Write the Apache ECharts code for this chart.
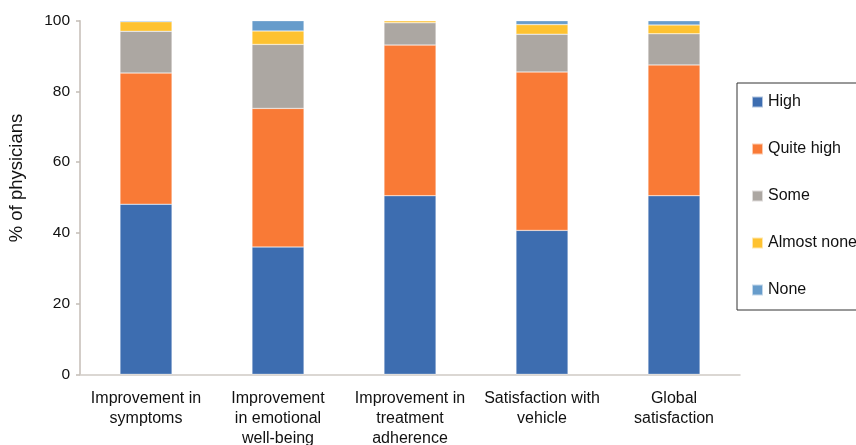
<!DOCTYPE html>
<html>
<head>
<meta charset="utf-8">
<script src="https://cdn.jsdelivr.net/npm/echarts@6/dist/echarts.min.js"></script>
<style>
html,body{margin:0;padding:0;background:#fff;}
#chart{width:856px;height:445px;}
</style>
</head>
<body>
<div id="chart"></div>
<script>
var categories = ["Improvement in\nsymptoms", "Improvement\nin emotional\nwell-being", "Improvement in\ntreatment\nadherence", "Satisfaction with\nvehicle", "Global\nsatisfaction"];
var seriesNames = ["High", "Quite high", "Some", "Almost none", "None"];
var high = [48.1, 36.0, 50.5, 40.7, 50.5];
var quiteHigh = [37.1, 39.2, 42.6, 44.8, 37.0];
var some = [11.8, 18.1, 6.3, 10.7, 8.8];
var almostNone = [2.7, 3.8, 0.6, 2.7, 2.5];
var none = [0.3, 2.9, 0.0, 1.1, 1.2];
var yTicks = [0, 20, 40, 60, 80, 100];

var colors = ["#3d6db0", "#f97a36", "#aca7a2", "#fec230", "#679ccb"];
var values = [high, quiteHigh, some, almostNone, none];
var font = "'Liberation Sans', Arial, Helvetica, sans-serif";

var chart = echarts.init(document.getElementById('chart'), null, {renderer: 'canvas'});
var series = seriesNames.map(function (n, i) {
  return {
    name: n,
    type: 'bar',
    stack: 'total',
    barWidth: 52,
    data: values[i],
    itemStyle: {color: colors[i], borderColor: 'rgba(255,255,255,0.6)', borderWidth: 0.5},
    emphasis: {disabled: true}
  };
});

chart.setOption({
  animation: false,
  backgroundColor: '#ffffff',
  grid: {left: 80, right: 116, top: 20.7, bottom: 70.7, containLabel: false, outerBoundsMode: 'none'},
  legend: {
    orient: 'vertical',
    left: 737,
    top: 83,
    data: seriesNames,
    icon: 'rect',
    itemWidth: 11,
    itemHeight: 11,
    itemGap: 31,
    padding: [11, 20, 12, 14],
    borderColor: '#333333',
    borderWidth: 1,
    textStyle: {fontFamily: font, fontSize: 16, color: '#111', padding: [0, 0, 0, 0], lineHeight: 14},
    selectedMode: false
  },
  xAxis: {
    type: 'category',
    data: categories,
    axisLine: {lineStyle: {color: '#cfcac5', width: 1.5}},
    axisTick: {show: false},
    axisLabel: {fontFamily: font, fontSize: 16, color: '#111', lineHeight: 20, margin: 14, interval: 0}
  },
  yAxis: {
    type: 'value',
    min: yTicks[0],
    max: yTicks[yTicks.length - 1],
    interval: yTicks[1] - yTicks[0],
    name: '% of physicians',
    nameLocation: 'middle',
    nameGap: 54,
    nameTextStyle: {fontFamily: font, fontSize: 18.5, color: '#111', padding: [0, 0, 0, 39]},
    axisLine: {show: true, lineStyle: {color: '#c4bdb6', width: 1.5}},
    axisTick: {show: true, length: 4, lineStyle: {color: '#c4bdb6', width: 1.5}},
    splitLine: {show: false},
    axisLabel: {fontFamily: font, fontSize: 15.5, color: '#111', margin: 10}
  },
  series: series
});
</script>
</body>
</html>
